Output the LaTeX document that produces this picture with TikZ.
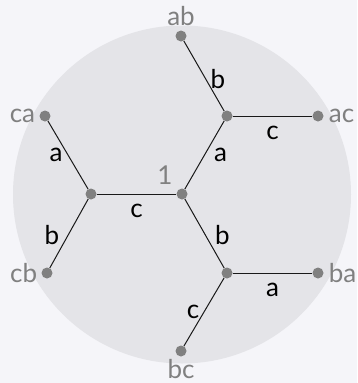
\documentclass[tikz,border=0pt]{standalone}
\usepackage{fontspec}
\setmainfont{Lato}
\definecolor{bgcol}{HTML}{F5F5F9}
\definecolor{circcol}{HTML}{E4E4E8}
\definecolor{dotgray}{HTML}{808080}
\definecolor{labgray}{HTML}{808080}
\begin{document}
\begin{tikzpicture}[x=1pt,y=-1pt,
  dot/.style={circle,fill=dotgray,inner sep=0pt,minimum size=11pt},
  outer/.style={text=labgray,inner sep=0pt,font=\fontsize{26}{30}\selectfont},
  elabel/.style={text=black,inner sep=0pt,font=\fontsize{26}{30}\selectfont},
  edge/.style={draw=black!90,line width=1pt}]
\fill[bgcol] (0,0) rectangle (357,383);
\useasboundingbox (0,0) rectangle (357,383);
\fill[circcol] (182,194.5) circle[radius=169];
% vertices
\node[dot] (o)  at (182,194) {};
\node[dot] (L)  at (91,194) {};
\node[dot] (UR) at (227,116) {};
\node[dot] (LR) at (227,273) {};
\node[dot,label={[outer,label distance=4pt]above:ab}] (ab) at (181,36) {};
\node[dot,label={[outer,label distance=5pt]right:ac}] (ac) at (318,116) {};
\node[dot,label={[outer,label distance=4pt]left:ca}] (ca) at (45,116) {};
\node[dot,label={[outer,label distance=4pt]left:cb}] (cb) at (47,273) {};
\node[dot,label={[outer,label distance=5pt]right:ba}] (ba) at (318,273) {};
\node[dot,label={[outer,label distance=2.5pt]below:bc}] (bc) at (181,351) {};
\node[outer] (one) at (165,175) {1};
% edges
\draw[edge] (ab) -- node[elabel,xshift=14pt,yshift=-3pt] (l1) {b} (UR);
\draw[edge] (UR) -- node[elabel,yshift=-17pt] (l2) {c} (ac);
\draw[edge] (o) -- node[elabel,xshift=16pt] (l3) {a} (UR);
\draw[edge] (ca) -- node[elabel,xshift=-12pt] (l4) {a} (L);
\draw[edge] (L) -- node[elabel,yshift=-17pt] (l5) {c} (o);
\draw[edge] (L) -- node[elabel,xshift=-17pt,yshift=-2pt] (l6) {b} (cb);
\draw[edge] (o) -- node[elabel,xshift=18pt,yshift=-2pt] (l7) {b} (LR);
\draw[edge] (LR) -- node[elabel,yshift=-17pt] (l8) {a} (ba);
\draw[edge] (LR) -- node[elabel,xshift=-11pt] (l9) {c} (bc);
\end{tikzpicture}
\end{document}
